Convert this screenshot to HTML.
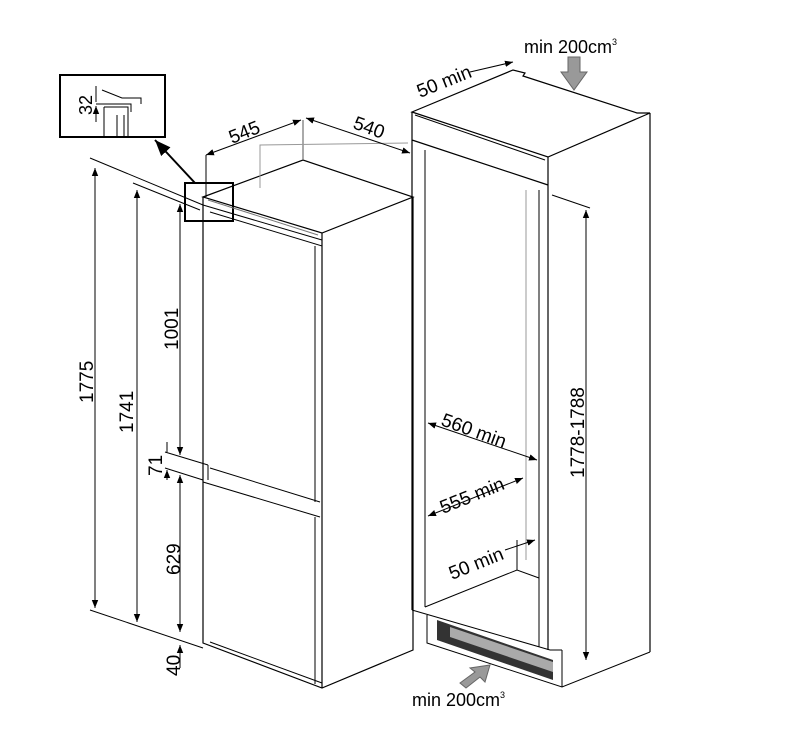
<!DOCTYPE html>
<html><head><meta charset="utf-8"><style>
html,body{margin:0;padding:0;background:#fff;}
svg{display:block;font-family:"Liberation Sans",sans-serif;}
</style></head><body>
<svg width="792" height="738" viewBox="0 0 792 738" xmlns="http://www.w3.org/2000/svg">
<defs>
<marker id="a" viewBox="0 0 10 10" refX="10" refY="5" markerWidth="8" markerHeight="8" orient="auto-start-reverse"><path d="M0,1 L10,5 L0,9 z" fill="#000"/></marker>
</defs>
<g fill="none" stroke="#000" stroke-width="1.2">
<rect x="60" y="75" width="105" height="62" stroke-width="2"/>
<path d="M102,90 L122,98 L141,98 L141,104 M96,104 L131,104 L131,112 M104,107 L128,107 L128,137 M104,107 L104,137 M117,115 L117,137 M124,115 L124,137" stroke-width="1"/>
<path d="M96,86 L96,102 M96,122 L96,106" marker-end="url(#a)" stroke-width="1"/>
<path d="M195,183 L155,140" stroke-width="2" marker-end="url(#a)"/>
<rect x="185" y="183" width="48" height="38" stroke-width="2"/>
<path d="M203,197 L303,160 L413,197 L322,233 Z"/>
<path d="M203,197 L203,643 L322,688 L413,650 L413,197"/>
<path d="M322,233 L322,688"/>
<path d="M203,205 L322,240 L322,246 L210,212" stroke-width="1"/>
<path d="M208,200 L318,235" stroke="#777" stroke-width="1"/>
<path d="M315,246 L315,502 M315,517 L315,684" stroke-width="1"/>
<path d="M210,468 L320,502 M203,482 L320,517 M208,465 L208,480" stroke-width="1"/>
<path d="M210,642 L322,683" stroke-width="1"/>
<path d="M303,120 L303,160" stroke="#555" stroke-width="1"/>
<path d="M260,188 L260,145 L408,143" stroke="#999" stroke-width="1"/>
<path d="M206,155 L301,120" marker-start="url(#a)" marker-end="url(#a)" stroke-width="1"/>
<path d="M306,118 L410,153" marker-start="url(#a)" marker-end="url(#a)" stroke-width="1"/>
<path d="M206,155 L206,197" stroke-width="1"/>
<path d="M90,158 L203,205 M133,183 L200,210 M90,610 L203,648 M165,452 L208,465 M165,468 L203,480" stroke-width="1"/>
<path d="M95,168 L95,608" marker-start="url(#a)" marker-end="url(#a)" stroke-width="1"/>
<path d="M137,190 L137,622" marker-start="url(#a)" marker-end="url(#a)" stroke-width="1"/>
<path d="M180,204 L180,455" marker-start="url(#a)" marker-end="url(#a)" stroke-width="1"/>
<path d="M167,442 L167,452 M167,480 L167,470" marker-end="url(#a)" stroke-width="1"/>
<path d="M180,475 L180,632" marker-start="url(#a)" marker-end="url(#a)" stroke-width="1"/>
<path d="M180,668 L180,645" marker-end="url(#a)" stroke-width="1"/>
<path d="M412,112 L513,70 L525,73 L523,76 L637,113 L650,113 L548,157 L412,112 Z"/>
<path d="M412,112 L412,610 M548,157 L548,650 M650,113 L650,652 M412,140 L548,185"/>
<path d="M415,115 L545,160" stroke-width="1"/>
<path d="M425,150 L425,607 M539,190 L539,647" stroke-width="1"/>
<path d="M526,190 L526,560" stroke="#aaa"/>
<path d="M425,607 L517,570 L539,578 M517,570 L517,540" stroke-width="1"/>
<path d="M412,610 L550,650 M427,615 L427,643 L562,687 L650,652 M562,650 L562,687 M550,650 L562,650" stroke-width="1"/>
<path d="M552,195 L590,208" stroke-width="1"/>
<path d="M586,210 L586,660" marker-start="url(#a)" marker-end="url(#a)" stroke-width="1"/>
<path d="M470,72 L513,62" marker-end="url(#a)" stroke-width="1"/>
<path d="M428,423 L537,460" marker-start="url(#a)" marker-end="url(#a)" stroke-width="1"/>
<path d="M428,516 L523,478" marker-start="url(#a)" marker-end="url(#a)" stroke-width="1"/>
<path d="M505,550 L535,540" marker-end="url(#a)" stroke-width="1"/>
</g>
<path d="M437,620 L553,660 L553,680 L437,640 Z" fill="#333"/>
<path d="M450,627 L553,662 L553,672 L450,637 Z" fill="#aaa"/>
<path d="M568,57 L580,57 L580,72 L587,72 L574,90 L561,72 L568,72 Z" fill="#999" stroke="#666"/>
<path d="M460,683 L475,672 L470,668 L490,665 L485,682 L480,677 L466,688 Z" fill="#999" stroke="#666"/>
<g font-size="19" fill="#000">
<text x="524" y="53" font-size="18">min 200cm<tspan font-size="9" dy="-8">3</tspan></text>
<text x="412" y="706" font-size="18">min 200cm<tspan font-size="9" dy="-8">3</tspan></text>
<text transform="translate(232,144) rotate(-22)">545</text>
<text transform="translate(352,128) rotate(20)">540</text>
<text transform="translate(420,98) rotate(-22)">50 min</text>
<text transform="translate(440,425) rotate(20)">560 min</text>
<text transform="translate(443,514) rotate(-22)">555 min</text>
<text transform="translate(452,580) rotate(-22)">50 min</text>
<text transform="translate(93,403) rotate(-90)">1775</text>
<text transform="translate(133,433) rotate(-90)">1741</text>
<text transform="translate(178,350) rotate(-90)">1001</text>
<text transform="translate(162,476) rotate(-90)">71</text>
<text transform="translate(180,575) rotate(-90)">629</text>
<text transform="translate(180,676) rotate(-90)">40</text>
<text transform="translate(584,478) rotate(-90)">1778-1788</text>
<text transform="translate(92,115) rotate(-90)" font-size="18">32</text>
</g>
</svg>
</body></html>
